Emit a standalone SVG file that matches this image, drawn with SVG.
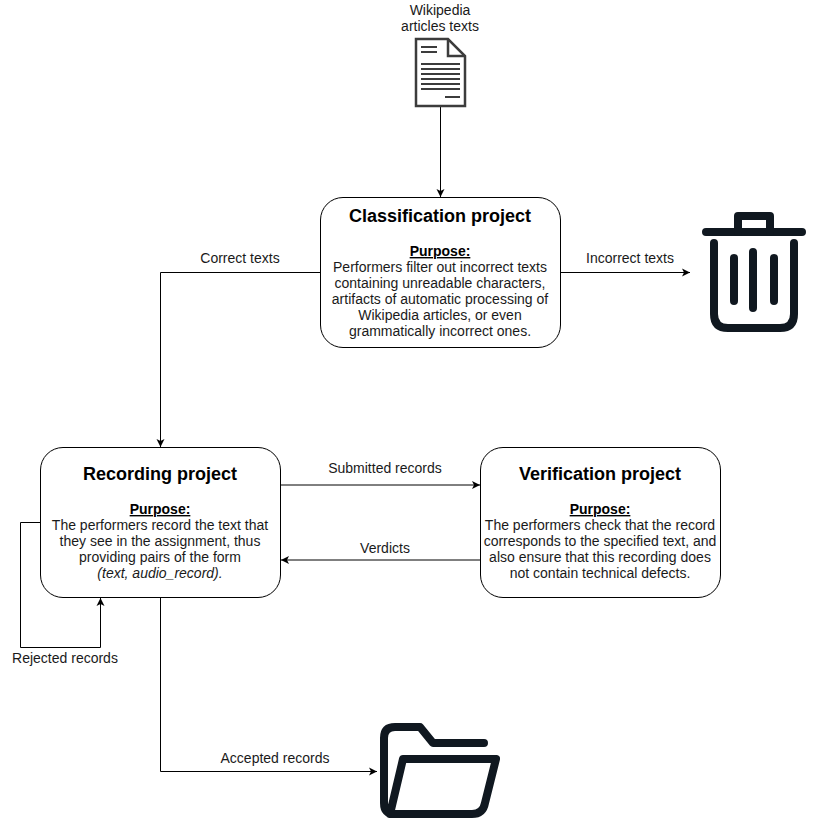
<svg xmlns="http://www.w3.org/2000/svg" width="819" height="836" viewBox="0 0 819 836">
<style>
text{font-family:"Liberation Sans",Arial,Helvetica,sans-serif;font-size:14px;fill:#1a1a1a;text-anchor:middle}
.t{font-size:18px;font-weight:bold;fill:#000}
.p{font-weight:bold;text-decoration:underline;fill:#000}
.box{fill:#fff;stroke:#000;stroke-width:1}
.c{fill:none;stroke:#000;stroke-width:1}
.i{fill:none;stroke:#101820;stroke-width:8;stroke-linecap:round;stroke-linejoin:round}
.d{fill:none;stroke:#3c3c3c}
</style>
<defs><marker id="a" markerUnits="userSpaceOnUse" markerWidth="10" markerHeight="10" refX="8" refY="4.5" orient="auto"><path d="M0 0.500L8 4.500L0 8.500L2 4.500Z" fill="#000"/></marker></defs>
<rect width="819" height="836" fill="#fff"/>
<g id="connectors">
<path class="c" marker-end="url(#a)" d="M440.500 107V197"/>
<path class="c" marker-end="url(#a)" d="M320.500 272.500H160.500V447"/>
<path class="c" marker-end="url(#a)" d="M560.500 272.500H690"/>
<path class="c" marker-end="url(#a)" d="M280.500 485H480"/>
<path class="c" marker-end="url(#a)" d="M480.500 560H281"/>
<path class="c" marker-end="url(#a)" d="M40.500 522.500H20.500V647.500H100.500V598"/>
<path class="c" marker-end="url(#a)" d="M160.500 597.500V771.500H377"/>
</g>
<g id="edge-labels">
<text x="240" y="263">Correct texts</text>
<text x="630" y="263">Incorrect texts</text>
<text x="385" y="473">Submitted records</text>
<text x="385" y="553">Verdicts</text>
<text x="65" y="663">Rejected records</text>
<text x="275" y="763">Accepted records</text>
</g>
<g id="wikipedia-articles">
<text x="440" y="15">Wikipedia</text>
<text x="440" y="31">articles texts</text>
<path d="M416 39H448L465 56V106H416Z" fill="#fff" stroke="#3c3c3c" stroke-width="2.500"/>
<path class="d" stroke-width="2.500" d="M448 39V56H465"/>
<path class="d" stroke-width="2" d="M421 47H437M421 52H437M421 64H460M421 69H460M421 74H460M421 79H460M421 84H460M421 89H460M445 97H460"/>
</g>
<g id="classification-project">
<rect class="box" x="320.500" y="197.500" width="240" height="150" rx="22.500"/>
<text class="t" x="440" y="222">Classification project</text>
<text class="p" x="440" y="256">Purpose:</text>
<text x="440" y="272">Performers filter out incorrect texts</text>
<text x="440" y="288">containing unreadable characters,</text>
<text x="440" y="304">artifacts of automatic processing of</text>
<text x="440" y="320">Wikipedia articles, or even</text>
<text x="440" y="336">grammatically incorrect ones.</text>
</g>
<g id="trash">
<path class="i" d="M706 232H802M714 243V314Q714 328 728 328H780Q794 328 794 314V243M734 258V301M753 252V308M774 258V301"/>
<path class="i" d="M738 232V216H770V232" stroke-linecap="butt"/>
</g>
<g id="recording-project">
<rect class="box" x="40.500" y="447.500" width="240" height="150" rx="22.500"/>
<text class="t" x="160" y="480">Recording project</text>
<text class="p" x="160" y="514">Purpose:</text>
<text x="160" y="530">The performers record the text that</text>
<text x="160" y="546">they see in the assignment, thus</text>
<text x="160" y="562">providing pairs of the form</text>
<text x="160" y="578" font-style="italic">(text, audio_record).</text>
</g>
<g id="verification-project">
<rect class="box" x="480.500" y="447.500" width="240" height="150" rx="22.500"/>
<text class="t" x="600" y="480">Verification project</text>
<text class="p" x="600" y="514">Purpose:</text>
<text x="600" y="530">The performers check that the record</text>
<text x="600" y="546">corresponds to the specified text, and</text>
<text x="600" y="562">also ensure that this recording does</text>
<text x="600" y="578">not contain technical defects.</text>
</g>
<g id="folder">
<path class="i" d="M484 743H433L420 727H395Q384 727 384 738V803Q384 814 395 814H472Q483 814 485 803L496 759H403L390 814"/>
</g>
</svg>
